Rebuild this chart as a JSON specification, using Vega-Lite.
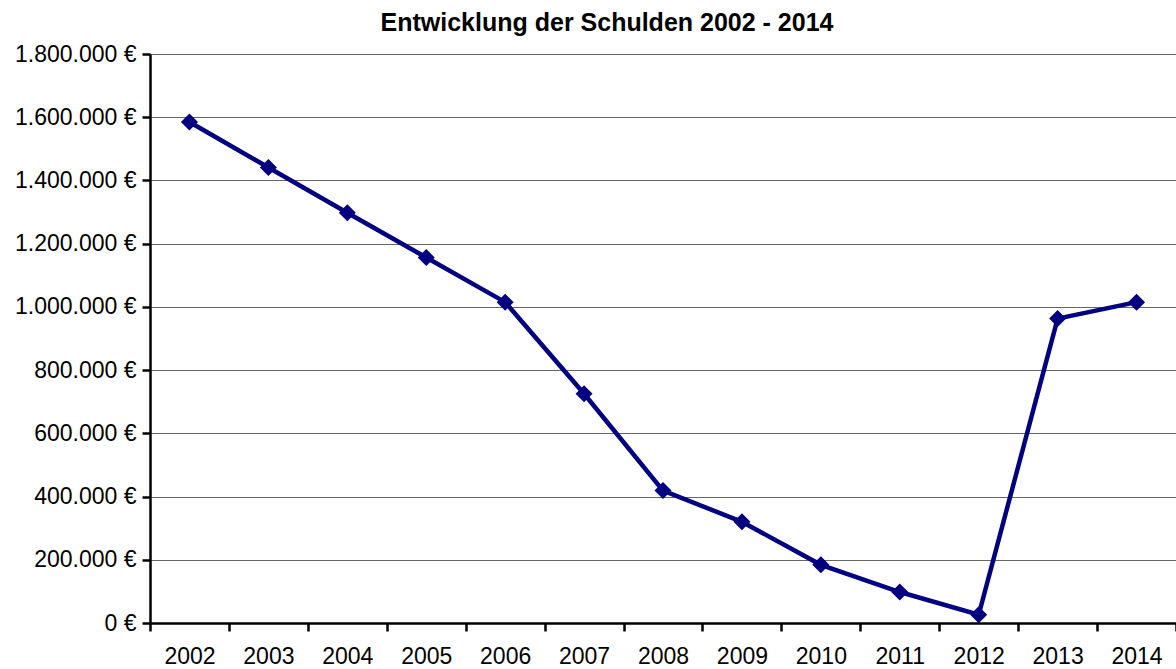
{
  "$schema": "https://vega.github.io/schema/vega-lite/v6.json",
  "width": 1026,
  "height": 569,
  "autosize": {"type": "none"},
  "padding": {"left": 150, "top": 54, "right": 0, "bottom": 46},
  "background": "white",
  "config": {
    "view": {"stroke": null},
    "font": "Liberation Sans",
    "locale": {"number": {"decimal": ",", "thousands": ".", "grouping": [3], "currency": ["", " €"]}}
  },
  "title": {
    "text": "Entwicklung der Schulden 2002 - 2014",
    "font": "Liberation Sans",
    "fontSize": 25,
    "fontWeight": "bold",
    "color": "black",
    "anchor": "middle",
    "baseline": "alphabetic",
    "offset": -13,
    "dx": -56
  },
  "data": {
    "values": [
      {"Jahr": "2002", "Schulden": 1585000},
      {"Jahr": "2003", "Schulden": 1441000},
      {"Jahr": "2004", "Schulden": 1298000},
      {"Jahr": "2005", "Schulden": 1156000},
      {"Jahr": "2006", "Schulden": 1015000},
      {"Jahr": "2007", "Schulden": 725000},
      {"Jahr": "2008", "Schulden": 419000},
      {"Jahr": "2009", "Schulden": 320000},
      {"Jahr": "2010", "Schulden": 184000},
      {"Jahr": "2011", "Schulden": 98000},
      {"Jahr": "2012", "Schulden": 26000},
      {"Jahr": "2013", "Schulden": 963000},
      {"Jahr": "2014", "Schulden": 1015000}
    ]
  },
  "encoding": {
    "x": {
      "field": "Jahr",
      "type": "ordinal",
      "scale": {"type": "band", "paddingInner": 0, "paddingOuter": 0},
      "axis": {
        "title": null,
        "labelAngle": 0,
        "labelFontSize": 23,
        "labelColor": "black",
        "labelPadding": 14,
        "tickBand": "extent",
        "tickSize": 8,
        "tickWidth": 2.5,
        "tickColor": "black",
        "domainColor": "black",
        "domainWidth": 2.5,
        "grid": false,
        "zindex": 1
      }
    },
    "y": {
      "field": "Schulden",
      "type": "quantitative",
      "scale": {"domain": [0, 1800000], "nice": false},
      "axis": {
        "title": null,
        "values": [0, 200000, 400000, 600000, 800000, 1000000, 1200000, 1400000, 1600000, 1800000],
        "format": "$,d",
        "labelFontSize": 23,
        "labelColor": "black",
        "labelPadding": 6,
        "tickSize": 8,
        "tickWidth": 2.5,
        "tickColor": "black",
        "domainColor": "black",
        "domainWidth": 2.5,
        "grid": true,
        "gridColor": "#666666",
        "gridWidth": 1,
        "gridOpacity": 1
      }
    }
  },
  "layer": [
    {"mark": {"type": "line", "color": "#000080", "strokeWidth": 4.5}},
    {"mark": {"type": "point", "shape": "diamond", "filled": true, "size": 290, "color": "#000080", "opacity": 1}}
  ]
}
